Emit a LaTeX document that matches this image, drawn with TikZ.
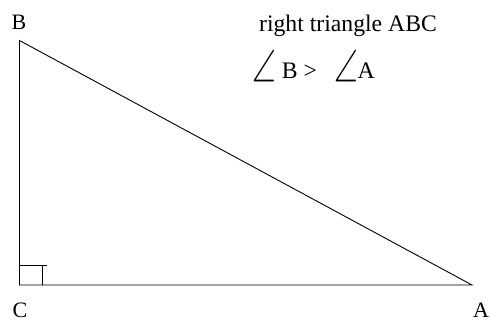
\documentclass[tikz,border=0pt]{standalone}
\usepackage{fontspec}
\setmainfont{Liberation Serif}
\newfontfamily\symbook{DejaVu Sans}
\IfFontExistsTF{Latin Modern Math}
  {\newfontfamily\symlight{Latin Modern Math}}
  {\let\symlight\symbook}
\usetikzlibrary{positioning}
\newcommand{\angsym}{\raisebox{-4pt}{\scalebox{0.95}[1.4]{\fontsize{32}{32}\symlight
  \iffontchar\font"2220 \else\symbook\fi ∠}}}

\begin{document}
\begin{tikzpicture}[x=1pt,y=-1pt,font=\fontsize{22}{26}\selectfont]
  \useasboundingbox (0,0) rectangle (491,321);
  \coordinate (B) at (19.5,40.5);
  \coordinate (C) at (19.5,285);
  \coordinate (A) at (472,285);
  \draw[line width=0.9pt](A)--(B)--(C)--cycle;
  \draw[line width=0.9pt](C)++(0,-20)--++(27,0);
  \draw[line width=0.9pt](C)++(23,0)--++(0,-20);
  \node(labB) at (19,22){B};
  \node(labC) at (20,310){C};
  \node(labA) at (481,310){A};
  \node[anchor=base,font=\fontsize{23.7}{28}\selectfont](title) at (348,32){right triangle ABC};
  \node[anchor=base west,inner sep=0pt,font=\fontsize{23.7}{28}\selectfont](rel) at (252,79)
    {\angsym\hspace{6pt}B\hspace{6pt}>\hspace{17pt}\angsym A};
\end{tikzpicture}
\end{document}
